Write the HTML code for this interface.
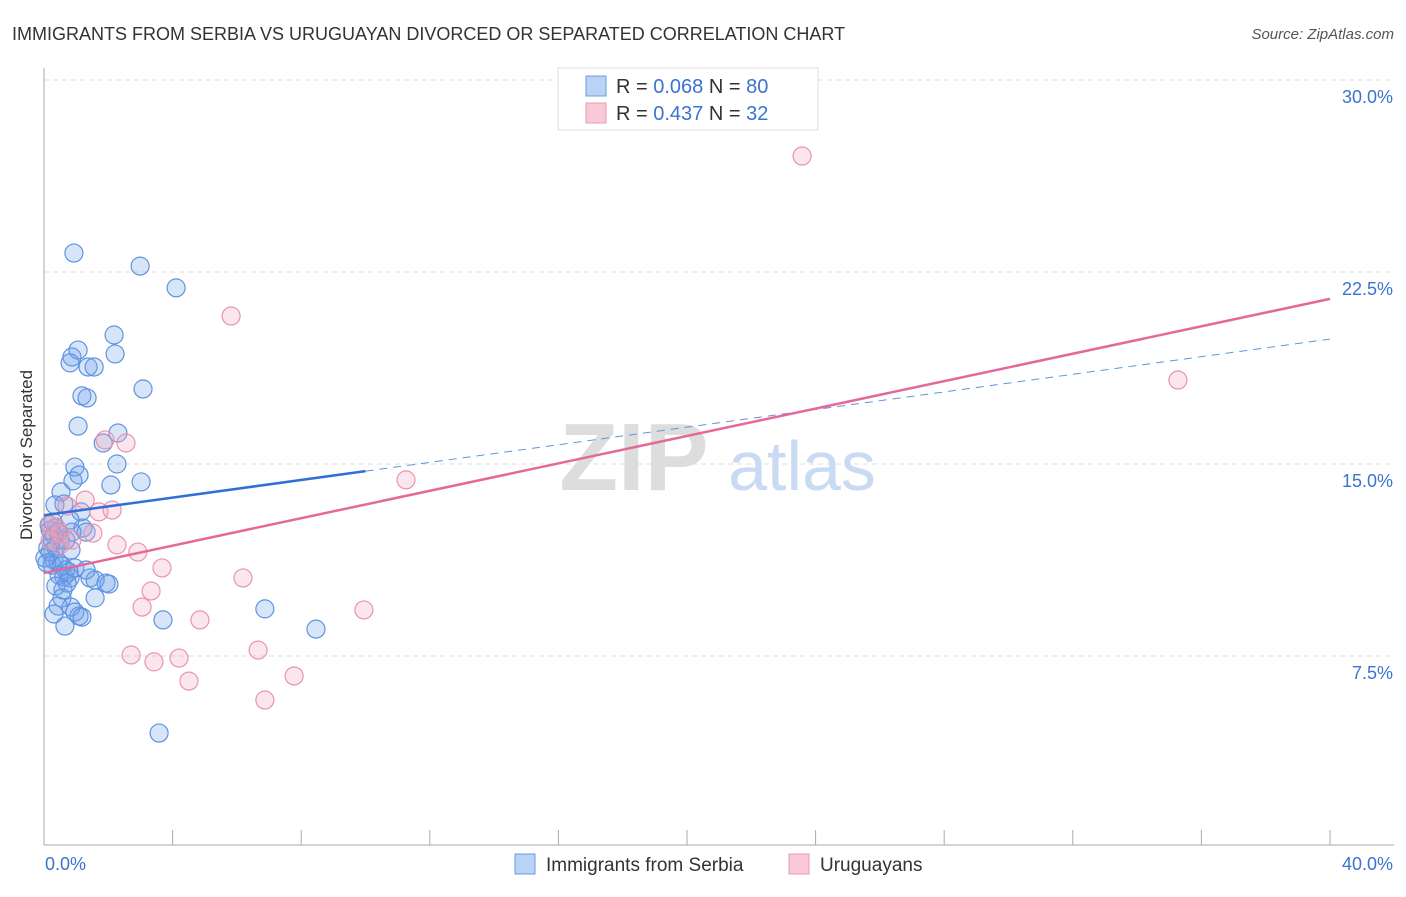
<!DOCTYPE html>
<html><head><meta charset="utf-8"><style>
body{margin:0;background:#fff;font-family:"Liberation Sans",sans-serif}
svg text{font-family:"Liberation Sans",sans-serif}
</style></head><body>
<svg width="1406" height="892" xmlns="http://www.w3.org/2000/svg">
<text x="12" y="40" font-size="18" fill="#333">IMMIGRANTS FROM SERBIA VS URUGUAYAN DIVORCED OR SEPARATED CORRELATION CHART</text>
<text x="1394" y="39" font-size="15" fill="#555" font-style="italic" text-anchor="end">Source: ZipAtlas.com</text>
<g id="grid"></g>
<g>
<text x="634" y="490" font-size="96" fill="#ddd" text-anchor="middle" font-family="Liberation Serif" font-weight="bold">ZIP</text>
<text x="802" y="490" font-size="70" fill="#c9daf3" text-anchor="middle">atlas</text>
</g>
<line x1="44" y1="68" x2="44" y2="845" stroke="#aaa"/>
<line x1="44" y1="845" x2="1394" y2="845" stroke="#aaa"/>
<text x="-455" y="32" transform="rotate(-90)" font-size="17" fill="#333" text-anchor="middle">Divorced or Separated</text>
<g id="pts"></g>
<g id="lines"></g>
<g>
<rect x="558" y="68" width="260" height="62" fill="#fff" stroke="#ddd"/>
<rect x="586" y="76" width="20" height="20" fill="#b9d2f5" stroke="#6a9ce0"/>
<rect x="586" y="103" width="20" height="20" fill="#f9c9d7" stroke="#ec9ab3"/>
<text x="616" y="93" font-size="20" fill="#333">R = <tspan fill="#3a73d0">0.068</tspan>   N = <tspan fill="#3a73d0">80</tspan></text>
<text x="616" y="120" font-size="20" fill="#333">R =  <tspan fill="#3a73d0">0.437</tspan>   N =  <tspan fill="#3a73d0">32</tspan></text>
</g>
<text x="45" y="870" font-size="18" fill="#3a73d0">0.0%</text>
<text x="1393" y="870" font-size="18" fill="#3a73d0" text-anchor="end">40.0%</text>
<g>
<rect x="515" y="854" width="20" height="20" fill="#b9d2f5" stroke="#6a9ce0"/>
<text x="546" y="871" font-size="19" fill="#333">Immigrants from Serbia</text>
<rect x="789" y="854" width="20" height="20" fill="#f9c9d7" stroke="#ec9ab3"/>
<text x="820" y="871" font-size="19" fill="#333">Uruguayans</text>
</g>
</svg>
<script>
const yTicks=[7.5,15,22.5,30];
const yTickLabels=["7.5%","15.0%","22.5%","30.0%"];
const xTicks=[0,4,8,12,16,20,24,28,32,36,40];
const serbiaX=[0.93,2.99,4.11,2.18,2.21,0.87,1.06,0.81,1.37,1.56,3.08,1.18,1.34,1.06,2.30,1.84,2.27,0.96,1.09,0.90,2.08,3.02,0.53,0.62,0.34,1.15,1.21,1.31,0.87,0.37,0.16,0.25,0.50,0.37,0.19,0.84,0.31,0.25,0.44,0.56,0.68,0.78,0.62,0.81,1.43,1.59,0.47,0.37,0.72,1.93,2.02,1.59,0.56,0.84,0.44,0.31,0.96,1.09,1.18,0.65,3.70,6.87,8.46,3.58,0.19,0.31,0.12,0.68,0.44,0.81,0.28,0.03,0.09,0.59,0.96,1.31];
const serbiaY=[23.24,22.73,21.88,20.04,19.30,19.18,19.45,18.95,18.79,18.79,17.93,17.66,17.58,16.48,16.21,15.82,15.0,14.88,14.57,14.34,14.18,14.30,13.91,13.44,13.40,13.13,12.50,12.34,12.34,12.50,12.62,12.03,12.03,11.76,11.56,11.64,11.25,11.05,11.17,11.02,10.86,10.78,10.59,10.55,10.55,10.47,10.66,10.23,10.35,10.35,10.31,9.77,9.77,9.41,9.45,9.14,9.22,9.06,9.02,8.67,8.91,9.34,8.55,4.49,12.42,12.23,11.72,12.03,12.34,12.81,12.73,11.33,11.13,10.08,10.94,10.86];
const uruX=[23.58,5.82,35.27,2.55,1.90,11.26,1.28,0.72,1.71,2.12,1.52,0.37,0.50,2.27,2.92,3.67,3.33,6.19,3.05,4.85,2.71,3.42,4.20,6.66,4.51,7.78,6.87,9.95,0.19,0.50,0.87,0.19];
const uruY=[27.03,20.78,18.28,15.82,15.94,14.38,13.59,13.36,13.13,13.20,12.30,12.54,12.30,11.84,11.56,10.94,10.04,10.55,9.41,8.91,7.54,7.27,7.42,7.73,6.52,6.72,5.78,9.30,12.62,11.84,12.03,12.03];
const serbiaTrend=[13.0,19.88];
const uruTrend=[10.74,21.45];
const serbiaSolidEnd=10;
const NS="http://www.w3.org/2000/svg";
const X=v=>44+v*(1286/40);
const Y=v=>80+(30-v)*(192/7.5);
function mk(t,a,p){const e=document.createElementNS(NS,t);for(const k in a)e.setAttribute(k,a[k]);p.appendChild(e);return e;}
const grid=document.getElementById('grid');
yTicks.forEach((t,i)=>{
const l=mk('line',{x1:44,x2:1394,y1:Y(t),y2:Y(t),stroke:'#ddd','stroke-dasharray':'5,4'},grid);


const tx=mk('text',{x:1393,y:Y(t)+23,'font-size':18,fill:'#3a73d0','text-anchor':'end'},grid);
tx.textContent=yTickLabels[i];


});
xTicks.forEach(t=>{
const l=mk('line',{x1:X(t),x2:X(t),y1:830,y2:845,stroke:'#aaa'},grid);


});
const pts=document.getElementById('pts');
serbiaX.forEach((x,i)=>{
const c=mk('circle',{cx:X(x),cy:Y(serbiaY[i]),r:9,fill:'rgba(110,160,235,0.28)',stroke:'#5f93e0','stroke-width':1.2},pts);


});
uruX.forEach((x,i)=>{
const c=mk('circle',{cx:X(x),cy:Y(uruY[i]),r:9,fill:'rgba(245,165,190,0.28)',stroke:'#eb93ae','stroke-width':1.2},pts);


});
const lines=document.getElementById('lines');
const sy=x=>serbiaTrend[0]+(serbiaTrend[1]-serbiaTrend[0])*x/40;
const uy=x=>uruTrend[0]+(uruTrend[1]-uruTrend[0])*x/40;
let l=mk('line',{x1:X(0),y1:Y(sy(0)),x2:X(serbiaSolidEnd),y2:Y(sy(serbiaSolidEnd)),stroke:'#2f6fd6','stroke-width':2.5},lines);


l=mk('line',{x1:X(serbiaSolidEnd),y1:Y(sy(serbiaSolidEnd)),x2:X(40),y2:Y(sy(40)),stroke:'#5f93e0','stroke-width':1,'stroke-dasharray':'8,6'},lines);


l=mk('line',{x1:X(0),y1:Y(uy(0)),x2:X(40),y2:Y(uy(40)),stroke:'#e4699a','stroke-width':2.5},lines);


</script>
</body></html>
